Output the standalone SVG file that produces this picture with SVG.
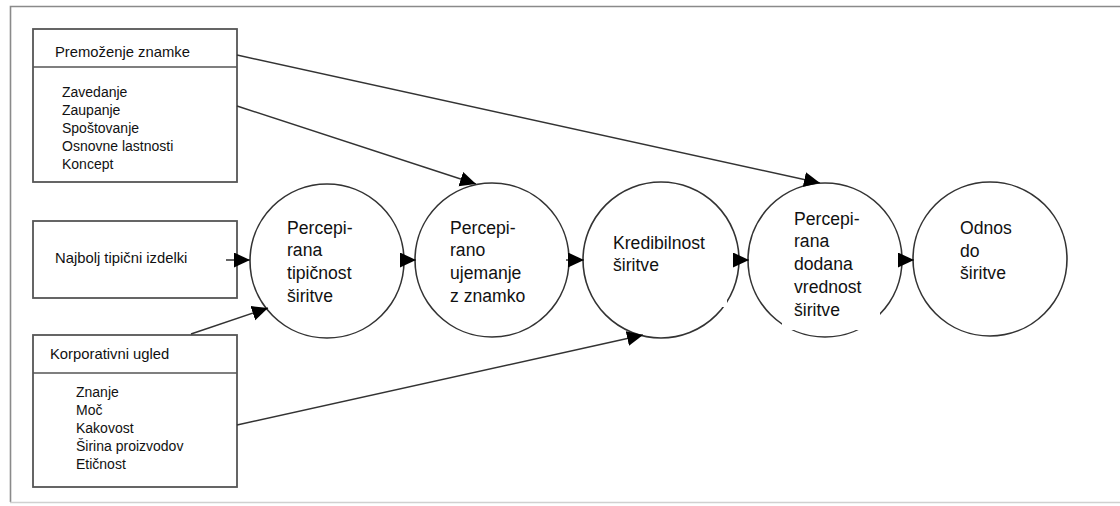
<svg xmlns="http://www.w3.org/2000/svg" width="1120" height="506" viewBox="0 0 1120 506">
<style>
.box{fill:#fff;stroke:#555;stroke-width:1.8}
.div{stroke:#555;stroke-width:1.5}
.circ{fill:#fff;stroke:#333;stroke-width:1.6}
.t{font-family:"Liberation Sans",Arial,sans-serif;fill:#111}
.ti{font-size:14.8px}
.it{font-size:14px}
.ct{font-size:17.6px}
.con{stroke:#333;stroke-width:1.5;fill:none;marker-end:url(#ah)}
</style>
<defs>
<marker id="ah" markerUnits="userSpaceOnUse" markerWidth="18" markerHeight="16" refX="16" refY="7.5" orient="auto">
<path d="M0,0 L16,7.5 L0,15 Z" fill="#000"/>
</marker>
</defs>
<rect width="1120" height="506" fill="#fff"/>
<g id="frame">
<polyline points="1120,6.5 10.5,6.5 10.5,502" fill="none" stroke="#8a8a8a" stroke-width="1.6"/>
<line x1="10" y1="502.5" x2="1120" y2="502.5" stroke="#d0d0d0" stroke-width="1.5"/>
</g>
<g id="node-premozenje">
<rect class="box" x="33" y="29" width="204" height="153"/>
<line class="div" x1="33" y1="67" x2="237" y2="67"/>
<text class="t ti" x="55" y="57">Premoženje znamke</text>
<text class="t it" x="62" y="97">Zavedanje</text>
<text class="t it" x="62" y="115">Zaupanje</text>
<text class="t it" x="62" y="133">Spoštovanje</text>
<text class="t it" x="62" y="151">Osnovne lastnosti</text>
<text class="t it" x="62" y="169">Koncept</text>
</g>
<g id="node-najbolj">
<rect class="box" x="33" y="221" width="204" height="77"/>
<text class="t ti" x="55" y="263">Najbolj tipični izdelki</text>
</g>
<g id="node-korporativni">
<rect class="box" x="33" y="335" width="204" height="152"/>
<line class="div" x1="33" y1="373" x2="237" y2="373"/>
<text class="t ti" x="50" y="359">Korporativni ugled</text>
<text class="t it" x="76" y="397">Znanje</text>
<text class="t it" x="76" y="415">Moč</text>
<text class="t it" x="76" y="433">Kakovost</text>
<text class="t it" x="76" y="451">Širina proizvodov</text>
<text class="t it" x="76" y="469">Etičnost</text>
</g>
<g id="node-tipicnost">
<circle class="circ" cx="327" cy="261" r="77"/>
<text class="t ct" x="287" y="234">Percepi-</text>
<text class="t ct" x="287" y="256">rana</text>
<text class="t ct" x="287" y="279">tipičnost</text>
<text class="t ct" x="287" y="302">širitve</text>
</g>
<g id="node-ujemanje">
<circle class="circ" cx="492" cy="260" r="77"/>
<text class="t ct" x="450" y="234">Percepi-</text>
<text class="t ct" x="450" y="256">rano</text>
<text class="t ct" x="450" y="279">ujemanje</text>
<text class="t ct" x="450" y="302">z znamko</text>
</g>
<g id="node-kredibilnost">
<circle class="circ" cx="661" cy="260" r="78"/>
<rect x="719" y="297" width="8" height="10" fill="#fff"/>
<text class="t ct" x="613" y="249">Kredibilnost</text>
<text class="t ct" x="613" y="271">širitve</text>
</g>
<g id="node-dodana">
<circle class="circ" cx="825" cy="260" r="77"/>
<rect x="782" y="300" width="98" height="30" fill="#fff"/>
<text class="t ct" x="794" y="225">Percepi-</text>
<text class="t ct" x="794" y="247">rana</text>
<text class="t ct" x="794" y="270">dodana</text>
<text class="t ct" x="794" y="293">vrednost</text>
<text class="t ct" x="794" y="316">širitve</text>
</g>
<g id="node-odnos">
<circle class="circ" cx="990" cy="259" r="77"/>
<text class="t ct" x="960" y="234">Odnos</text>
<text class="t ct" x="960" y="257">do</text>
<text class="t ct" x="960" y="279">širitve</text>
</g>
<g id="connectors">
<line class="con" x1="237" y1="55" x2="820" y2="183"/>
<line class="con" x1="237" y1="106" x2="476" y2="184"/>
<line class="con" x1="226" y1="260" x2="250" y2="260"/>
<line class="con" x1="400" y1="260" x2="416" y2="260"/>
<line class="con" x1="566" y1="260" x2="584" y2="260"/>
<line class="con" x1="735" y1="260" x2="749" y2="260"/>
<line class="con" x1="899" y1="260" x2="914" y2="260"/>
<line class="con" x1="191" y1="334" x2="268" y2="308"/>
<line class="con" x1="237" y1="425" x2="643" y2="335"/>
</g>
</svg>
